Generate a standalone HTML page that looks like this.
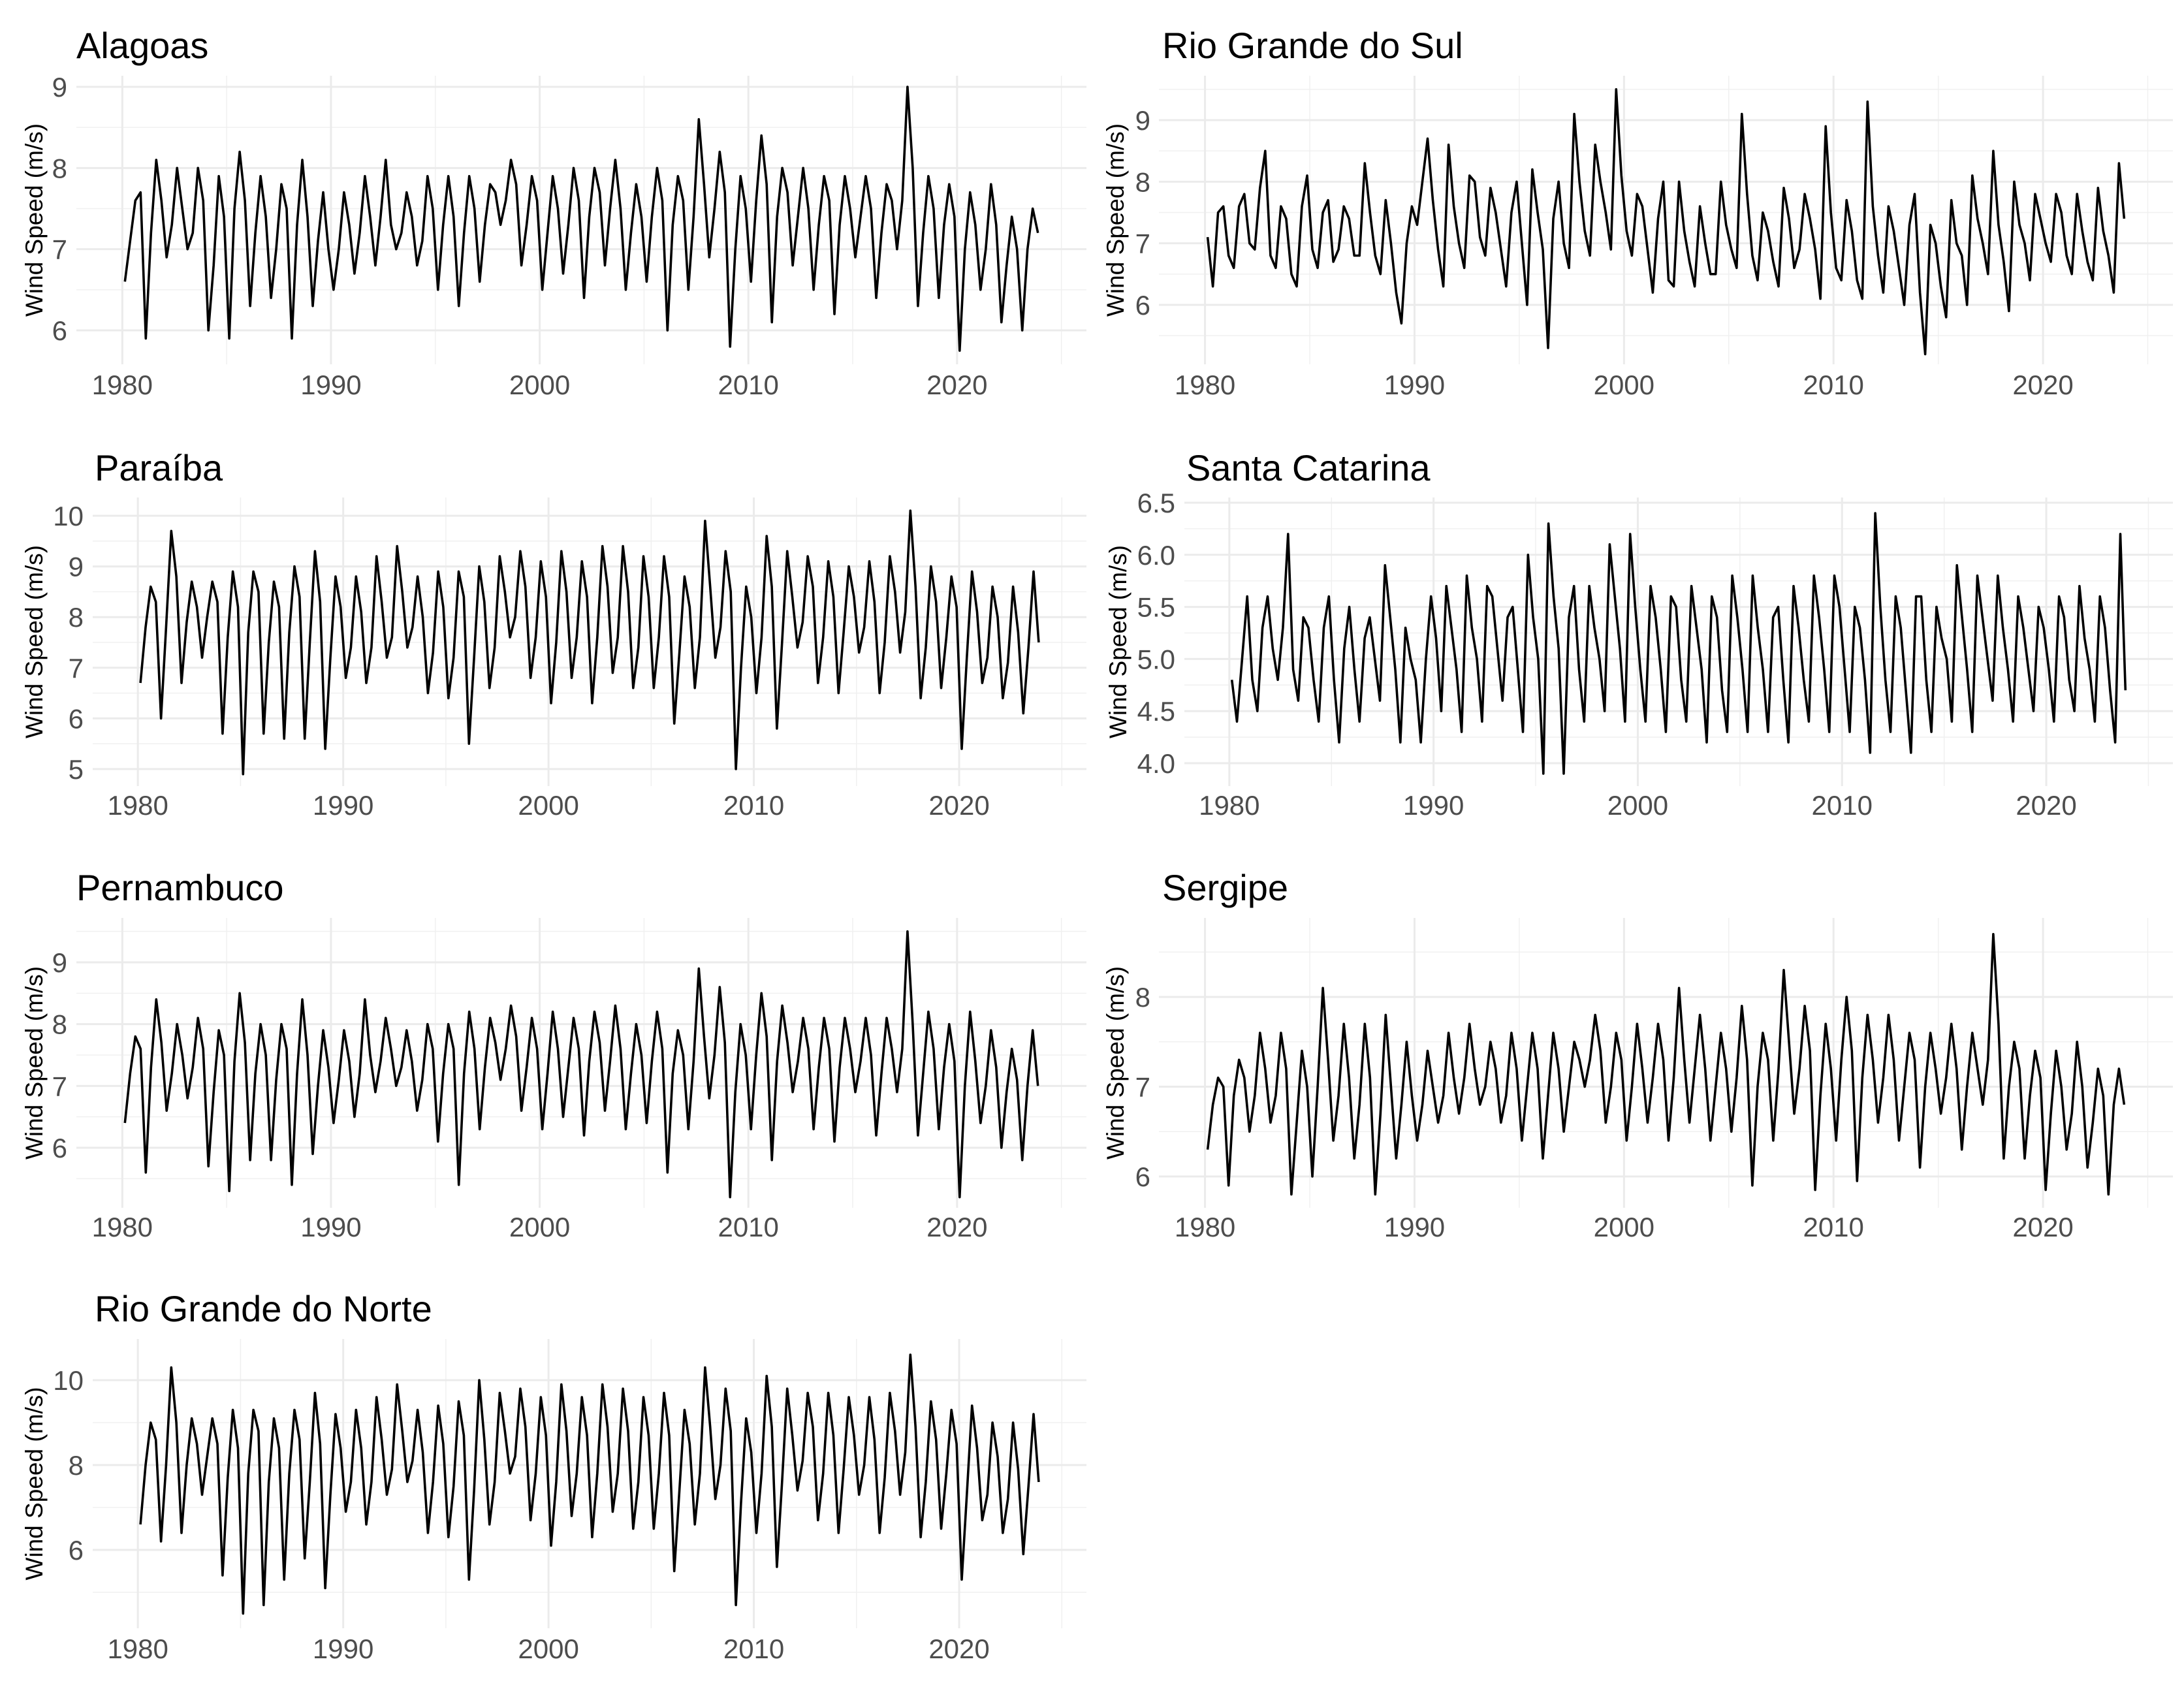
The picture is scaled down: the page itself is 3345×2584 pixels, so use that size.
<!DOCTYPE html>
<html><head><meta charset="utf-8"><style>
html,body{margin:0;padding:0;background:#fff;}
svg{display:block;font-family:"Liberation Sans",Arial,sans-serif;}
</style></head><body>
<svg id="chart" xmlns="http://www.w3.org/2000/svg" width="3345" height="2584" viewBox="0 0 3345 2584">
<rect x="0" y="0" width="3345" height="2584" fill="#fff"/>
</svg>
<script>
// Time axis: quarterly values 1980..2023
const years = [];
for (let y = 1980; y <= 2023; y++) years.push(y);
const xTicks = [1980, 1990, 2000, 2010, 2020];
const xMinor = [1985, 1995, 2005, 2015, 2025];

const alagoas = [
6.6,7.1,7.6,7.7, 5.9,7.2,8.1,7.6, 6.9,7.3,8.0,7.5, 7.0,7.2,8.0,7.6, 6.0,6.8,7.9,7.4,
5.9,7.5,8.2,7.6, 6.3,7.2,7.9,7.4, 6.4,7.0,7.8,7.5, 5.9,7.3,8.1,7.4, 6.3,7.1,7.7,7.0,
6.5,7.0,7.7,7.3, 6.7,7.2,7.9,7.4, 6.8,7.4,8.1,7.3, 7.0,7.2,7.7,7.4, 6.8,7.1,7.9,7.5,
6.5,7.3,7.9,7.4, 6.3,7.2,7.9,7.5, 6.6,7.3,7.8,7.7, 7.3,7.6,8.1,7.8, 6.8,7.3,7.9,7.6,
6.5,7.2,7.9,7.5, 6.7,7.3,8.0,7.6, 6.4,7.4,8.0,7.7, 6.8,7.5,8.1,7.5, 6.5,7.2,7.8,7.4,
6.6,7.4,8.0,7.6, 6.0,7.3,7.9,7.6, 6.5,7.4,8.6,7.8, 6.9,7.5,8.2,7.7, 5.8,7.0,7.9,7.5,
6.6,7.6,8.4,7.8, 6.1,7.4,8.0,7.7, 6.8,7.4,8.0,7.5, 6.5,7.3,7.9,7.6, 6.2,7.3,7.9,7.5,
6.9,7.4,7.9,7.5, 6.4,7.2,7.8,7.6, 7.0,7.6,9.0,8.0, 6.3,7.2,7.9,7.5, 6.4,7.3,7.8,7.4,
5.75,7.0,7.7,7.3, 6.5,7.0,7.8,7.3, 6.1,6.8,7.4,7.0, 6.0,7.0,7.5,7.2];
const rioGrandeDoSul = [
7.1,6.3,7.5,7.6, 6.8,6.6,7.6,7.8, 7.0,6.9,7.9,8.5, 6.8,6.6,7.6,7.4, 6.5,6.3,7.6,8.1,
6.9,6.6,7.5,7.7, 6.7,6.9,7.6,7.4, 6.8,6.8,8.3,7.5, 6.8,6.5,7.7,7.0, 6.2,5.7,7.0,7.6,
7.3,8.0,8.7,7.7, 6.9,6.3,8.6,7.6, 7.0,6.6,8.1,8.0, 7.1,6.8,7.9,7.5, 6.9,6.3,7.5,8.0,
7.0,6.0,8.2,7.5, 6.9,5.3,7.4,8.0, 7.0,6.6,9.1,8.0, 7.2,6.8,8.6,8.0, 7.5,6.9,9.5,8.1,
7.2,6.8,7.8,7.6, 6.9,6.2,7.4,8.0, 6.4,6.3,8.0,7.2, 6.7,6.3,7.6,7.0, 6.5,6.5,8.0,7.3,
6.9,6.6,9.1,7.8, 6.8,6.4,7.5,7.2, 6.7,6.3,7.9,7.4, 6.6,6.9,7.8,7.4, 6.9,6.1,8.9,7.5,
6.6,6.4,7.7,7.2, 6.4,6.1,9.3,7.6, 6.8,6.2,7.6,7.2, 6.6,6.0,7.3,7.8, 6.2,5.2,7.3,7.0,
6.3,5.8,7.7,7.0, 6.8,6.0,8.1,7.4, 7.0,6.5,8.5,7.3, 6.7,5.9,8.0,7.3, 7.0,6.4,7.8,7.4,
7.0,6.7,7.8,7.5, 6.8,6.5,7.8,7.2, 6.7,6.4,7.9,7.2, 6.8,6.2,8.3,7.4];
const paraiba = [
6.7,7.8,8.6,8.3, 6.0,7.8,9.7,8.8, 6.7,7.9,8.7,8.2, 7.2,8.0,8.7,8.3, 5.7,7.6,8.9,8.2,
4.9,7.7,8.9,8.5, 5.7,7.5,8.7,8.2, 5.6,7.7,9.0,8.4, 5.6,7.5,9.3,8.3, 5.4,7.2,8.8,8.2,
6.8,7.4,8.8,8.1, 6.7,7.4,9.2,8.3, 7.2,7.6,9.4,8.5, 7.4,7.8,8.8,8.0, 6.5,7.3,8.9,8.2,
6.4,7.2,8.9,8.4, 5.5,7.2,9.0,8.3, 6.6,7.4,9.2,8.5, 7.6,8.0,9.3,8.6, 6.8,7.6,9.1,8.4,
6.3,7.5,9.3,8.5, 6.8,7.6,9.1,8.4, 6.3,7.6,9.4,8.6, 6.9,7.6,9.4,8.5, 6.6,7.4,9.2,8.4,
6.6,7.6,9.2,8.4, 5.9,7.3,8.8,8.2, 6.6,7.6,9.9,8.6, 7.2,7.8,9.3,8.5, 5.0,7.0,8.6,8.0,
6.5,7.6,9.6,8.6, 5.8,7.5,9.3,8.4, 7.4,7.9,9.2,8.6, 6.7,7.6,9.1,8.4, 6.5,7.7,9.0,8.4,
7.3,7.8,9.1,8.3, 6.5,7.5,9.2,8.5, 7.3,8.1,10.1,8.6, 6.4,7.4,9.0,8.3, 6.6,7.6,8.8,8.2,
5.4,7.2,8.9,8.1, 6.7,7.2,8.6,8.0, 6.4,7.1,8.6,7.7, 6.1,7.4,8.9,7.5];
const santaCatarina = [
4.8,4.4,5.0,5.6, 4.8,4.5,5.3,5.6, 5.1,4.8,5.3,6.2, 4.9,4.6,5.4,5.3, 4.8,4.4,5.3,5.6,
4.8,4.2,5.1,5.5, 4.9,4.4,5.2,5.4, 5.0,4.6,5.9,5.4, 4.9,4.2,5.3,5.0, 4.8,4.2,5.0,5.6,
5.2,4.5,5.7,5.3, 4.9,4.3,5.8,5.3, 5.0,4.4,5.7,5.6, 5.1,4.6,5.4,5.5, 4.9,4.3,6.0,5.4,
5.0,3.9,6.3,5.6, 5.1,3.9,5.4,5.7, 4.9,4.4,5.7,5.3, 5.0,4.5,6.1,5.6, 5.1,4.4,6.2,5.5,
4.9,4.4,5.7,5.4, 4.9,4.3,5.6,5.5, 4.8,4.4,5.7,5.3, 4.9,4.2,5.6,5.4, 4.7,4.3,5.8,5.4,
4.9,4.3,5.8,5.3, 4.9,4.3,5.4,5.5, 4.8,4.2,5.7,5.3, 4.8,4.4,5.8,5.4, 4.9,4.3,5.8,5.5,
4.9,4.3,5.5,5.3, 4.8,4.1,6.4,5.5, 4.8,4.3,5.6,5.3, 4.7,4.1,5.6,5.6, 4.8,4.3,5.5,5.2,
5.0,4.4,5.9,5.4, 4.9,4.3,5.8,5.4, 5.0,4.6,5.8,5.3, 4.9,4.4,5.6,5.3, 4.9,4.5,5.5,5.3,
4.9,4.4,5.6,5.4, 4.8,4.5,5.7,5.2, 4.9,4.4,5.6,5.3, 4.7,4.2,6.2,4.7];
const pernambuco = [
6.4,7.2,7.8,7.6, 5.6,7.3,8.4,7.7, 6.6,7.2,8.0,7.5, 6.8,7.3,8.1,7.6, 5.7,6.9,7.9,7.5,
5.3,7.4,8.5,7.7, 5.8,7.2,8.0,7.5, 5.8,7.1,8.0,7.6, 5.4,7.2,8.4,7.5, 5.9,7.0,7.9,7.3,
6.4,7.1,7.9,7.4, 6.5,7.2,8.4,7.5, 6.9,7.4,8.1,7.6, 7.0,7.3,7.9,7.4, 6.6,7.1,8.0,7.6,
6.1,7.2,8.0,7.6, 5.4,7.2,8.2,7.6, 6.3,7.3,8.1,7.7, 7.1,7.6,8.3,7.8, 6.6,7.3,8.1,7.6,
6.3,7.2,8.2,7.6, 6.5,7.3,8.1,7.6, 6.2,7.4,8.2,7.7, 6.6,7.4,8.3,7.6, 6.3,7.2,8.0,7.5,
6.4,7.4,8.2,7.6, 5.6,7.2,7.9,7.5, 6.3,7.4,8.9,7.8, 6.8,7.5,8.6,7.7, 5.2,6.9,8.0,7.5,
6.3,7.5,8.5,7.8, 5.8,7.4,8.3,7.7, 6.9,7.4,8.1,7.6, 6.3,7.3,8.1,7.6, 6.1,7.3,8.1,7.6,
6.9,7.4,8.1,7.5, 6.2,7.2,8.1,7.6, 6.9,7.6,9.5,8.0, 6.2,7.2,8.2,7.6, 6.3,7.3,8.0,7.4,
5.2,7.0,8.2,7.4, 6.4,7.0,7.9,7.3, 6.0,6.9,7.6,7.1, 5.8,7.0,7.9,7.0];
const sergipe = [
6.3,6.8,7.1,7.0, 5.9,6.9,7.3,7.1, 6.5,6.9,7.6,7.2, 6.6,6.9,7.6,7.2, 5.8,6.6,7.4,7.0,
6.0,7.0,8.1,7.3, 6.4,6.9,7.7,7.1, 6.2,6.8,7.7,7.1, 5.8,6.7,7.8,7.0, 6.2,6.8,7.5,6.9,
6.4,6.8,7.4,7.0, 6.6,6.9,7.6,7.1, 6.7,7.1,7.7,7.2, 6.8,7.0,7.5,7.2, 6.6,6.9,7.6,7.2,
6.4,7.0,7.6,7.2, 6.2,6.9,7.6,7.2, 6.5,7.0,7.5,7.3, 7.0,7.3,7.8,7.4, 6.6,7.0,7.6,7.3,
6.4,7.0,7.7,7.2, 6.6,7.1,7.7,7.3, 6.4,7.1,8.1,7.3, 6.6,7.2,7.8,7.2, 6.4,7.0,7.6,7.2,
6.5,7.1,7.9,7.3, 5.9,7.0,7.6,7.3, 6.4,7.2,8.3,7.5, 6.7,7.2,7.9,7.4, 5.85,6.9,7.7,7.2,
6.4,7.3,8.0,7.4, 5.95,7.1,7.8,7.3, 6.6,7.1,7.8,7.3, 6.4,7.0,7.6,7.3, 6.1,7.0,7.6,7.2,
6.7,7.1,7.7,7.2, 6.3,7.0,7.6,7.2, 6.8,7.3,8.7,7.7, 6.2,7.0,7.5,7.2, 6.2,6.9,7.4,7.1,
5.85,6.7,7.4,7.0, 6.3,6.7,7.5,7.0, 6.1,6.6,7.2,6.9, 5.8,6.8,7.2,6.8];
const rioGrandeDoNorte = [
6.6,8.0,9.0,8.6, 6.2,8.0,10.3,9.0, 6.4,8.0,9.1,8.5, 7.3,8.2,9.1,8.5, 5.4,7.7,9.3,8.4,
4.5,7.8,9.3,8.8, 4.7,7.6,9.1,8.4, 5.3,7.8,9.3,8.6, 5.8,7.6,9.7,8.5, 5.1,7.3,9.2,8.4,
6.9,7.6,9.3,8.4, 6.6,7.6,9.6,8.6, 7.3,7.9,9.9,8.8, 7.6,8.1,9.3,8.3, 6.4,7.6,9.4,8.5,
6.3,7.5,9.5,8.7, 5.3,7.4,10.0,8.6, 6.6,7.6,9.7,8.8, 7.8,8.2,9.8,8.9, 6.7,7.8,9.6,8.7,
6.1,7.6,9.9,8.8, 6.8,7.8,9.6,8.7, 6.3,7.8,9.9,8.9, 6.9,7.8,9.8,8.8, 6.5,7.6,9.6,8.7,
6.5,7.8,9.7,8.7, 5.5,7.4,9.3,8.5, 6.6,7.8,10.3,8.9, 7.2,8.0,9.8,8.8, 4.7,7.1,9.1,8.3,
6.4,7.8,10.1,8.9, 5.6,7.6,9.8,8.7, 7.4,8.1,9.7,8.9, 6.7,7.8,9.7,8.7, 6.4,7.9,9.6,8.7,
7.3,8.0,9.6,8.6, 6.4,7.7,9.7,8.8, 7.3,8.3,10.6,8.9, 6.3,7.6,9.5,8.6, 6.5,7.8,9.3,8.5,
5.3,7.3,9.4,8.4, 6.7,7.3,9.0,8.2, 6.4,7.2,9.0,7.9, 5.9,7.5,9.2,7.6];

const alagoasTicks = [6, 7, 8, 9];
const rgsTicks = [6, 7, 8, 9];
const paraibaTicks = [5, 6, 7, 8, 9, 10];
const scTicks = [4.0, 4.5, 5.0, 5.5, 6.0, 6.5];
const pernambucoTicks = [6, 7, 8, 9];
const sergipeTicks = [6, 7, 8];
const rgnTicks = [6, 8, 10];

const NS = 'http://www.w3.org/2000/svg';
const svg = document.getElementById('chart');
function mk(tag, attrs, parent) {
  const e = document.createElementNS(NS, tag);
  for (const k in attrs) e.setAttribute(k, attrs[k]);
  (parent || svg).appendChild(e);
  return e;
}

const panels = [
  {name:'alagoas', title:'Alagoas', data:alagoas, ticks:alagoasTicks, dec:0, L:117, R:1664, T:116, B:558, v0:6, p0:506, v1:9, p1:133, tx:117, ty:89, labR:103, ytx:52, xly:604},
  {name:'rio-grande-do-sul', title:'Rio Grande do Sul', data:rioGrandeDoSul, ticks:rgsTicks, dec:0, L:1775, R:3328, T:116, B:558, v0:6, p0:467, v1:9, p1:184, tx:1780, ty:89, labR:1762, ytx:1708, xly:604},
  {name:'paraiba', title:'Paraíba', data:paraiba, ticks:paraibaTicks, dec:0, L:142, R:1664, T:762, B:1204, v0:5, p0:1178, v1:10, p1:790, tx:145, ty:736, labR:128, ytx:52, xly:1248},
  {name:'santa-catarina', title:'Santa Catarina', data:santaCatarina, ticks:scTicks, dec:1, L:1814, R:3328, T:762, B:1204, v0:4.0, p0:1169, v1:6.5, p1:770, tx:1817, ty:736, labR:1800, ytx:1712, xly:1248},
  {name:'pernambuco', title:'Pernambuco', data:pernambuco, ticks:pernambucoTicks, dec:0, L:117, R:1664, T:1406, B:1850, v0:6, p0:1758, v1:9, p1:1474, tx:117, ty:1379, labR:103, ytx:52, xly:1894},
  {name:'sergipe', title:'Sergipe', data:sergipe, ticks:sergipeTicks, dec:0, L:1775, R:3328, T:1406, B:1850, v0:6, p0:1802, v1:8, p1:1527, tx:1780, ty:1379, labR:1762, ytx:1708, xly:1894},
  {name:'rio-grande-do-norte', title:'Rio Grande do Norte', data:rioGrandeDoNorte, ticks:rgnTicks, dec:0, L:142, R:1664, T:2051, B:2494, v0:6, p0:2374, v1:10, p1:2114, tx:145, ty:2024, labR:128, ytx:52, xly:2540}
];
const T0 = 1977.8, T1 = 2026.2;

panels.forEach(p => {
  const g = mk('g', {});
  
  
  const xs = t => p.L + (t - T0) / (T1 - T0) * (p.R - p.L);
  const ys = v => p.p0 + (v - p.v0) * (p.p1 - p.p0) / (p.v1 - p.v0);

  const step = p.ticks[1] - p.ticks[0];
  const minors = [];
  for (let i = -1; i < p.ticks.length; i++) minors.push(p.ticks[0] + (i + 0.5) * step);
  minors.forEach(v => {
    const y = ys(v);
    if (y < p.T || y > p.B) return;
    const l = mk('line', {x1:p.L, x2:p.R, y1:y, y2:y, stroke:'#f0f0f0', 'stroke-width':1.5}, g);
    
    
  });
  xMinor.forEach(t => {
    const x = xs(t);
    if (x > p.R) return;
    const l = mk('line', {x1:x, x2:x, y1:p.T, y2:p.B, stroke:'#f0f0f0', 'stroke-width':1.5}, g);
    
    
  });
  p.ticks.forEach(v => {
    const y = ys(v);
    const l = mk('line', {x1:p.L, x2:p.R, y1:y, y2:y, stroke:'#ebebeb', 'stroke-width':3}, g);
    
    
    const tl = mk('text', {x:p.labR, y:y + 15, 'text-anchor':'end', 'font-size':42, fill:'#4d4d4d'}, g);
    
    
    tl.textContent = v.toFixed(p.dec);
  });
  xTicks.forEach(t => {
    const x = xs(t);
    const l = mk('line', {x1:x, x2:x, y1:p.T, y2:p.B, stroke:'#ebebeb', 'stroke-width':3}, g);
    
    
    const tl = mk('text', {x:x, y:p.xly, 'text-anchor':'middle', 'font-size':42, fill:'#4d4d4d'}, g);
    
    
    tl.textContent = String(t);
  });
  let d = '';
  p.data.forEach((v, i) => {
    const t = years[Math.floor(i / 4)] + (i % 4) / 4 + 0.125;
    d += (i ? 'L' : 'M') + xs(t).toFixed(1) + ' ' + ys(v).toFixed(1);
  });
  const path = mk('path', {d:d, fill:'none', stroke:'#000', 'stroke-width':3.6, 'stroke-linejoin':'round'}, g);
  
  
  const tt = mk('text', {x:p.tx, y:p.ty, 'font-size':56, fill:'#000'}, g);
  
  
  tt.textContent = p.title;
  const cy = (p.T + p.B) / 2;
  const yt = mk('text', {x:0, y:0, 'font-size':37, fill:'#000', 'text-anchor':'middle',
    transform:'translate(' + (p.ytx + 13) + ',' + cy + ') rotate(-90)'}, g);
  
  
  yt.textContent = 'Wind Speed (m/s)';
});
</script>
</body></html>
